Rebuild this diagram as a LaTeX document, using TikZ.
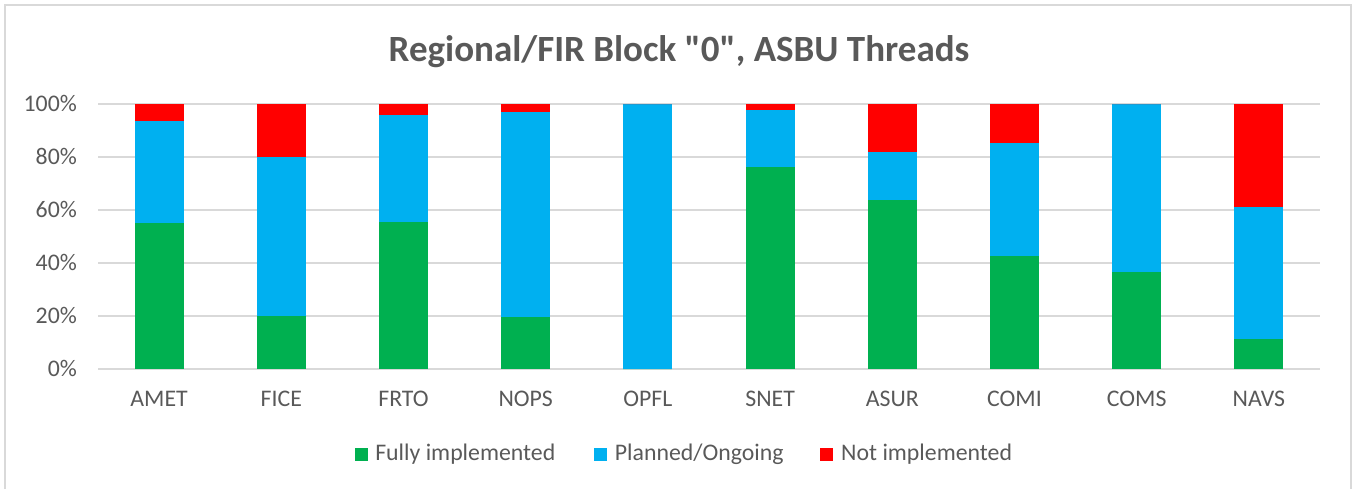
\documentclass[tikz,border=0pt]{standalone}
\usepackage{fontspec}
\setmainfont{Carlito}
\usetikzlibrary{positioning}
\definecolor{fullgreen}{HTML}{00B050}
\definecolor{plannedblue}{HTML}{00B0F0}
\definecolor{notred}{HTML}{FF0000}
\definecolor{gridgray}{HTML}{D9D9D9}
\definecolor{textgray}{HTML}{595959}
\begin{document}
\begin{tikzpicture}[x=0.5pt, y=0.5pt,
          label/.style={text=textgray, inner sep=0pt, font=\fontsize{11.9}{14}\selectfont},
          key box/.style={minimum size=6.5pt, inner sep=0pt}]
          \useasboundingbox (0,0) rectangle (1354,489);
          \draw[gridgray, line width=1pt] (5,0) -- (5,484) -- (1351,484) -- (1351,0);
          \node[text=textgray, inner sep=0pt, anchor=base, font=\bfseries\fontsize{18.5}{22}\selectfont] (title) at (679,428) {Regional/FIR Block \textquotedbl 0\textquotedbl, ASBU Threads};
          \begin{scope}[shift={(98,120.5)}, xscale=122.2, yscale=2.648]
              \foreach \p in {0,20,...,100}{
                  \draw[gridgray, line width=1pt] (0,\p) -- (10,\p);
                  \node[label, anchor=east] (tick\p) at (-0.17,\p) {\p\%};
              }
              \foreach \name/\g/\b [count=\i from 0] in {AMET/54.8/93.3, FICE/20/80, FRTO/55.2/95.7, NOPS/19.3/96.7, OPFL/0/100, SNET/76/97.6, ASUR/63.5/81.7, COMI/42.3/85.1, COMS/36.3/100, NAVS/11/61}{
                  \fill[fullgreen] (\i+0.3,0) rectangle (\i+0.7,\g);
                  \fill[plannedblue] (\i+0.3,\g) rectangle (\i+0.7,\b);
                  \fill[notred] (\i+0.3,\b) rectangle (\i+0.7,100);
                  \node[label] (cat\i) at (\i+0.5,-11.6) {\name};
              }
          \end{scope}
          \node[key box, fill=fullgreen] (key1) at (361,34.6) {};
          \node[label, right=3.5pt of key1] (text1) {Fully implemented};
          \node[key box, fill=plannedblue, right=19pt of text1] (key2) {};
          \node[label, right=3.5pt of key2] (text2) {Planned/Ongoing};
          \node[key box, fill=notred, right=18pt of text2] (key3) {};
          \node[label, right=3.5pt of key3] (text3) {Not implemented};
      \end{tikzpicture}
\end{document}
